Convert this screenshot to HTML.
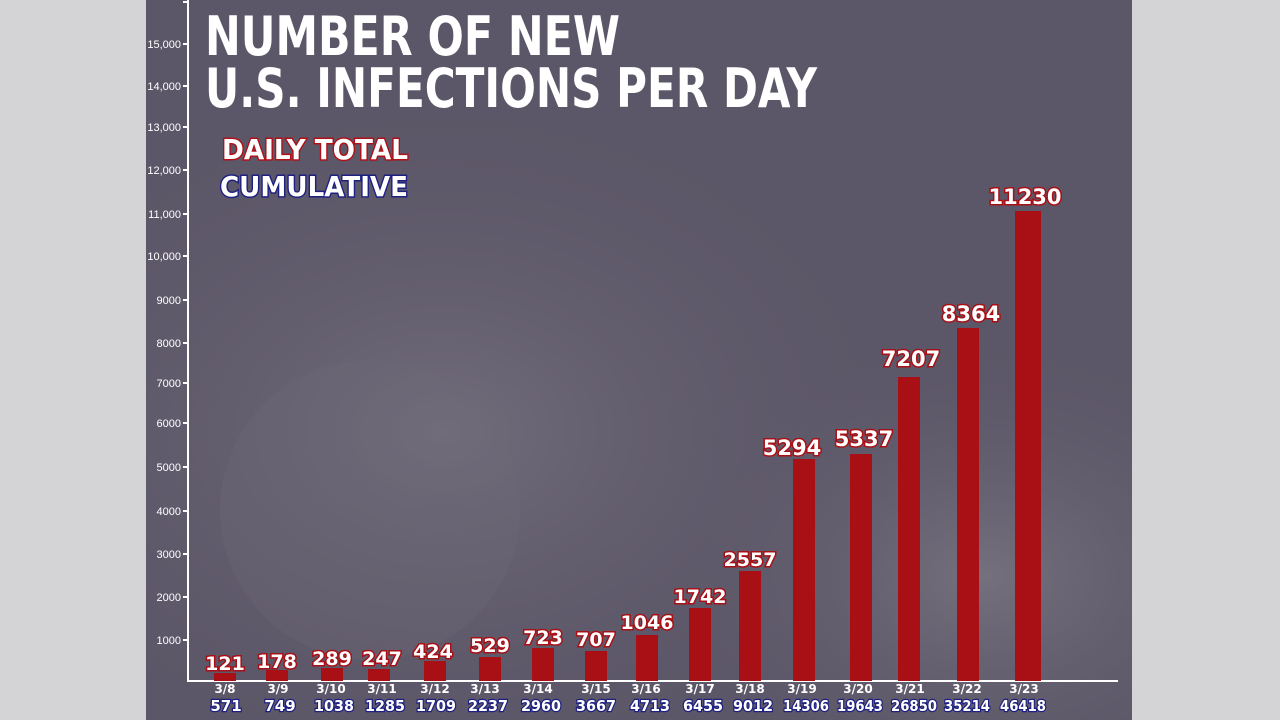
<!DOCTYPE html>
<html><head><meta charset="utf-8"><style>
html,body{margin:0;padding:0;width:1280px;height:720px;overflow:hidden;background:#d4d4d6}
svg{display:block}
</style></head><body>
<svg width="1280" height="720" viewBox="0 0 1280 720" xmlns="http://www.w3.org/2000/svg">
<defs>
<radialGradient id="g1" cx="0.3" cy="0.6" r="0.5">
<stop offset="0" stop-color="#726d7b"/><stop offset="1" stop-color="#5c5768" stop-opacity="0"/>
</radialGradient>
<radialGradient id="g2" cx="0.85" cy="0.8" r="0.35">
<stop offset="0" stop-color="#74707d"/><stop offset="1" stop-color="#5c5768" stop-opacity="0"/>
</radialGradient>
</defs>
<rect x="146" y="0" width="986" height="720" fill="#5c5768"/>
<rect x="146" y="0" width="986" height="720" fill="url(#g1)"/>
<rect x="146" y="0" width="986" height="720" fill="url(#g2)"/>
<circle cx="370" cy="510" r="150" fill="#6e6978" opacity="0.3"/>
<g font-family="Liberation Sans, sans-serif" font-size="11" fill="#fff" text-anchor="end">
<text x="181" y="48">15,000</text><text x="181" y="90">14,000</text><text x="181" y="131">13,000</text>
<text x="181" y="174">12,000</text><text x="181" y="218">11,000</text><text x="181" y="260">10,000</text>
<text x="181" y="304">9000</text><text x="181" y="347">8000</text><text x="181" y="387">7000</text>
<text x="181" y="427">6000</text><text x="181" y="471">5000</text><text x="181" y="515">4000</text>
<text x="181" y="558">3000</text><text x="181" y="601">2000</text><text x="181" y="644">1000</text>
</g>
<g stroke="#fff" stroke-width="2">
<line x1="188" y1="0" x2="188" y2="681"/><line x1="187" y1="681" x2="1118" y2="681"/>
<path d="M183 2H188M183 44H188M183 86H188M183 127H188M183 170H188M183 214H188M183 256H188M183 300H188M183 343H188M183 383H188M183 423H188M183 467H188M183 511H188M183 554H188M183 597H188M183 640H188"/>
</g>
<g font-family="DejaVu Sans, sans-serif" font-weight="bold" fill="#fff">
<text x="205" y="55" font-size="54" textLength="415" lengthAdjust="spacingAndGlyphs">NUMBER OF NEW</text>
<text x="205" y="107" font-size="54" textLength="612" lengthAdjust="spacingAndGlyphs">U.S. INFECTIONS PER DAY</text>
<text x="222" y="159" font-size="28" stroke="#b01018" stroke-width="3" paint-order="stroke" textLength="186" lengthAdjust="spacingAndGlyphs">DAILY TOTAL</text>
<text x="220" y="196" font-size="28" stroke="#1e2080" stroke-width="3" paint-order="stroke" textLength="188" lengthAdjust="spacingAndGlyphs">CUMULATIVE</text>
</g>
<g fill="#a81016">
<rect x="214" y="673" width="22" height="8"/><rect x="266" y="670" width="22" height="11"/>
<rect x="321" y="668" width="22" height="13"/><rect x="368" y="669" width="22" height="12"/>
<rect x="424" y="661" width="22" height="20"/><rect x="479" y="657" width="22" height="24"/>
<rect x="532" y="648" width="22" height="33"/><rect x="585" y="651" width="22" height="30"/>
<rect x="636" y="635" width="22" height="46"/><rect x="689" y="608" width="22" height="73"/>
<rect x="739" y="571" width="22" height="110"/><rect x="793" y="459" width="22" height="222"/>
<rect x="850" y="454" width="22" height="227"/><rect x="898" y="377" width="22" height="304"/>
<rect x="957" y="328" width="22" height="353"/><rect x="1015" y="211" width="26" height="470"/>
</g>
<g font-family="DejaVu Sans, sans-serif" font-weight="bold" font-size="19" fill="#fff" stroke="#a81016" stroke-width="3" paint-order="stroke" text-anchor="middle">
<text x="225" y="670">121</text><text x="277" y="668">178</text><text x="332" y="665">289</text>
<text x="382" y="665">247</text><text x="433" y="658">424</text><text x="490" y="652">529</text>
<text x="543" y="644">723</text><text x="596" y="646">707</text><text x="647" y="629">1046</text>
<text x="700" y="603">1742</text><text x="750" y="566">2557</text><text x="792" y="455" font-size="21">5294</text>
<text x="864" y="446" font-size="21">5337</text><text x="911" y="366" font-size="21">7207</text>
<text x="971" y="321" font-size="21">8364</text><text x="1025" y="204" font-size="21">11230</text>
</g>
<g font-family="DejaVu Sans, sans-serif" font-weight="bold" text-anchor="middle">
<g font-size="12" fill="#fff">
<text x="225" y="693">3/8</text><text x="278" y="693">3/9</text><text x="331" y="693">3/10</text>
<text x="382" y="693">3/11</text><text x="435" y="693">3/12</text><text x="485" y="693">3/13</text>
<text x="538" y="693">3/14</text><text x="596" y="693">3/15</text><text x="646" y="693">3/16</text>
<text x="700" y="693">3/17</text><text x="750" y="693">3/18</text><text x="802" y="693">3/19</text>
<text x="858" y="693">3/20</text><text x="910" y="693">3/21</text><text x="967" y="693">3/22</text>
<text x="1024" y="693">3/23</text>
</g>
<g font-size="15" fill="#fff" stroke="#1e2080" stroke-width="2.5" paint-order="stroke" lengthAdjust="spacingAndGlyphs">
<text x="226" y="711">571</text><text x="280" y="711">749</text>
<text x="334" y="711" textLength="40" lengthAdjust="spacingAndGlyphs">1038</text>
<text x="385" y="711" textLength="40" lengthAdjust="spacingAndGlyphs">1285</text>
<text x="436" y="711" textLength="40" lengthAdjust="spacingAndGlyphs">1709</text>
<text x="488" y="711" textLength="40" lengthAdjust="spacingAndGlyphs">2237</text>
<text x="541" y="711" textLength="40" lengthAdjust="spacingAndGlyphs">2960</text>
<text x="596" y="711" textLength="40" lengthAdjust="spacingAndGlyphs">3667</text>
<text x="650" y="711" textLength="40" lengthAdjust="spacingAndGlyphs">4713</text>
<text x="703" y="711" textLength="40" lengthAdjust="spacingAndGlyphs">6455</text>
<text x="753" y="711" textLength="40" lengthAdjust="spacingAndGlyphs">9012</text>
<text x="806" y="711" textLength="46" lengthAdjust="spacingAndGlyphs">14306</text>
<text x="860" y="711" textLength="46" lengthAdjust="spacingAndGlyphs">19643</text>
<text x="914" y="711" textLength="46" lengthAdjust="spacingAndGlyphs">26850</text>
<text x="967" y="711" textLength="46" lengthAdjust="spacingAndGlyphs">35214</text>
<text x="1023" y="711" textLength="46" lengthAdjust="spacingAndGlyphs">46418</text>
</g>
</g>
</svg>
</body></html>
